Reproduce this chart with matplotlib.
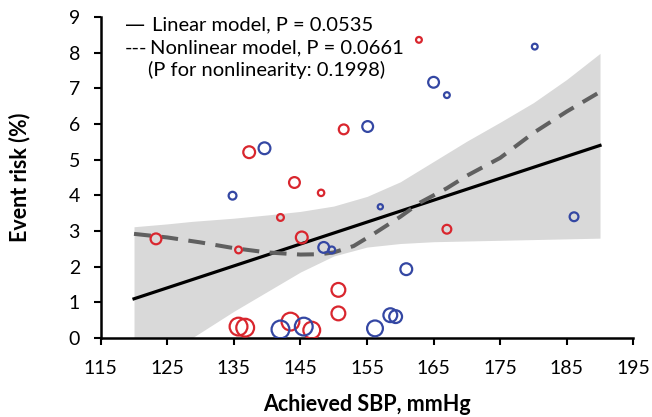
import matplotlib
matplotlib.use("Agg")
import matplotlib.pyplot as plt
import numpy as np

plt.rcParams["font.family"] = ["Lato", "DejaVu Sans"]

# achieved SBP (mmHg) and event risk (%) per trial arm
red_sbp = [162.8, 151.5, 144.1, 148.1, 137.3, 142.0, 123.3, 135.7,
           145.2, 167.0, 150.7, 150.7, 143.5, 146.7, 135.7, 136.7]
red_risk = [8.36, 5.85, 4.36, 4.07, 5.21, 3.38, 2.78, 2.47,
            2.82, 3.05, 1.35, 0.69, 0.46, 0.22, 0.32, 0.29]
red_weight = [4.0, 6.0, 6.5, 4.3, 7.0, 4.5, 6.5, 4.5,
              7.0, 5.5, 8.0, 8.0, 10.0, 9.5, 10.0, 10.0]

blue_sbp = [180.2, 165.0, 167.0, 155.1, 139.6, 134.8, 157.0, 186.1,
            148.5, 149.7, 160.9, 158.5, 159.3, 156.2, 145.5, 142.0]
blue_risk = [8.17, 7.17, 6.81, 5.93, 5.32, 3.99, 3.68, 3.40,
             2.54, 2.47, 1.93, 0.64, 0.60, 0.27, 0.32, 0.24]
blue_weight = [4.0, 6.5, 4.0, 6.5, 7.0, 5.0, 3.7, 5.5,
               6.5, 4.5, 7.0, 8.0, 7.5, 9.0, 10.0, 10.0]

# fitted models
lin_x = [120, 190]
lin_y = [1.1, 5.4]

nl_x = [120, 125, 130, 135, 140, 145, 148, 150, 153, 156, 160, 163, 167,
        170, 175, 180, 185, 190]
nl_y = [2.92, 2.82, 2.68, 2.52, 2.40, 2.34, 2.35, 2.40, 2.58, 2.92, 3.40,
        3.80, 4.20, 4.55, 5.05, 5.75, 6.35, 6.90]

ci_x = [120, 125, 128.7, 135, 140, 145, 150, 155, 160, 165, 170, 175,
        180, 185, 190]
ci_low = [-1.0, -0.45, 0.0, 0.75, 1.3, 1.85, 2.3, 2.55, 2.65, 2.7, 2.72,
          2.74, 2.76, 2.78, 2.8]
ci_high = [3.12, 3.2, 3.27, 3.36, 3.45, 3.55, 3.7, 3.97, 4.38, 4.95, 5.52,
           6.05, 6.6, 7.25, 7.98]

x_ticks = np.arange(115, 196, 10)
y_ticks = np.arange(0, 10, 1)

RED = "#D9262E"
BLUE = "#3447A3"


def marker_area(weights):
    # outer radius in px -> scatter area in pt^2
    d = (2 * np.asarray(weights) - 2.2) * 0.72
    return d ** 2


fig = plt.figure(figsize=(6.52, 4.17), dpi=100)
ax = fig.add_axes([0.1545, 0.1894, 0.8168, 0.7698])

ax.fill_between(ci_x, ci_low, ci_high, color="#D9D9D9", lw=0, zorder=1)

ax.plot(lin_x, lin_y, color="black", lw=2.3, zorder=3)
ax.plot(nl_x, nl_y, color="#606060", lw=2.9,
        linestyle=(0, (4.2, 2.6)), zorder=3)

ax.scatter(red_sbp, red_risk, s=marker_area(red_weight),
           facecolors="none", edgecolors=RED, linewidths=1.6, zorder=4)
ax.scatter(blue_sbp, blue_risk, s=marker_area(blue_weight),
           facecolors="none", edgecolors=BLUE, linewidths=1.6, zorder=4)

ax.set_xlim(115, 195)
ax.set_ylim(0, 9)
ax.set_xticks(x_ticks)
ax.set_yticks(y_ticks)
ax.tick_params(axis="both", direction="out", length=5, width=1.5,
               labelsize=14, color="black")
ax.tick_params(axis="x", pad=11)
ax.tick_params(axis="y", pad=10)

for side in ["top", "right"]:
    ax.spines[side].set_visible(False)
for side in ["left", "bottom"]:
    ax.spines[side].set_linewidth(1.8)

ax.set_xlabel("Achieved SBP, mmHg", fontsize=15.5, fontweight="bold",
              va="top")
ax.xaxis.set_label_coords(0.5, -0.175)
ax.set_ylabel("Event risk (%)", fontsize=15.5, fontweight="bold")
ax.yaxis.set_label_coords(-0.133, 0.5)

# model legend written as plain text lines
legend_kw = dict(transform=ax.transAxes, fontsize=14.5, va="center",
                 ha="left")
ax.text(0.0456, 0.975, "\u2014", family="DejaVu Sans", **legend_kw)
ax.text(0.0967, 0.975, "Linear model, P = 0.0535", **legend_kw)
ax.text(0.0456, 0.903, "---", **legend_kw)
ax.text(0.093, 0.903, "Nonlinear model, P = 0.0661", **legend_kw)
ax.text(0.089, 0.835, "(P for nonlinearity: 0.1998)", **legend_kw)

fig.savefig("out.png", dpi=100)
